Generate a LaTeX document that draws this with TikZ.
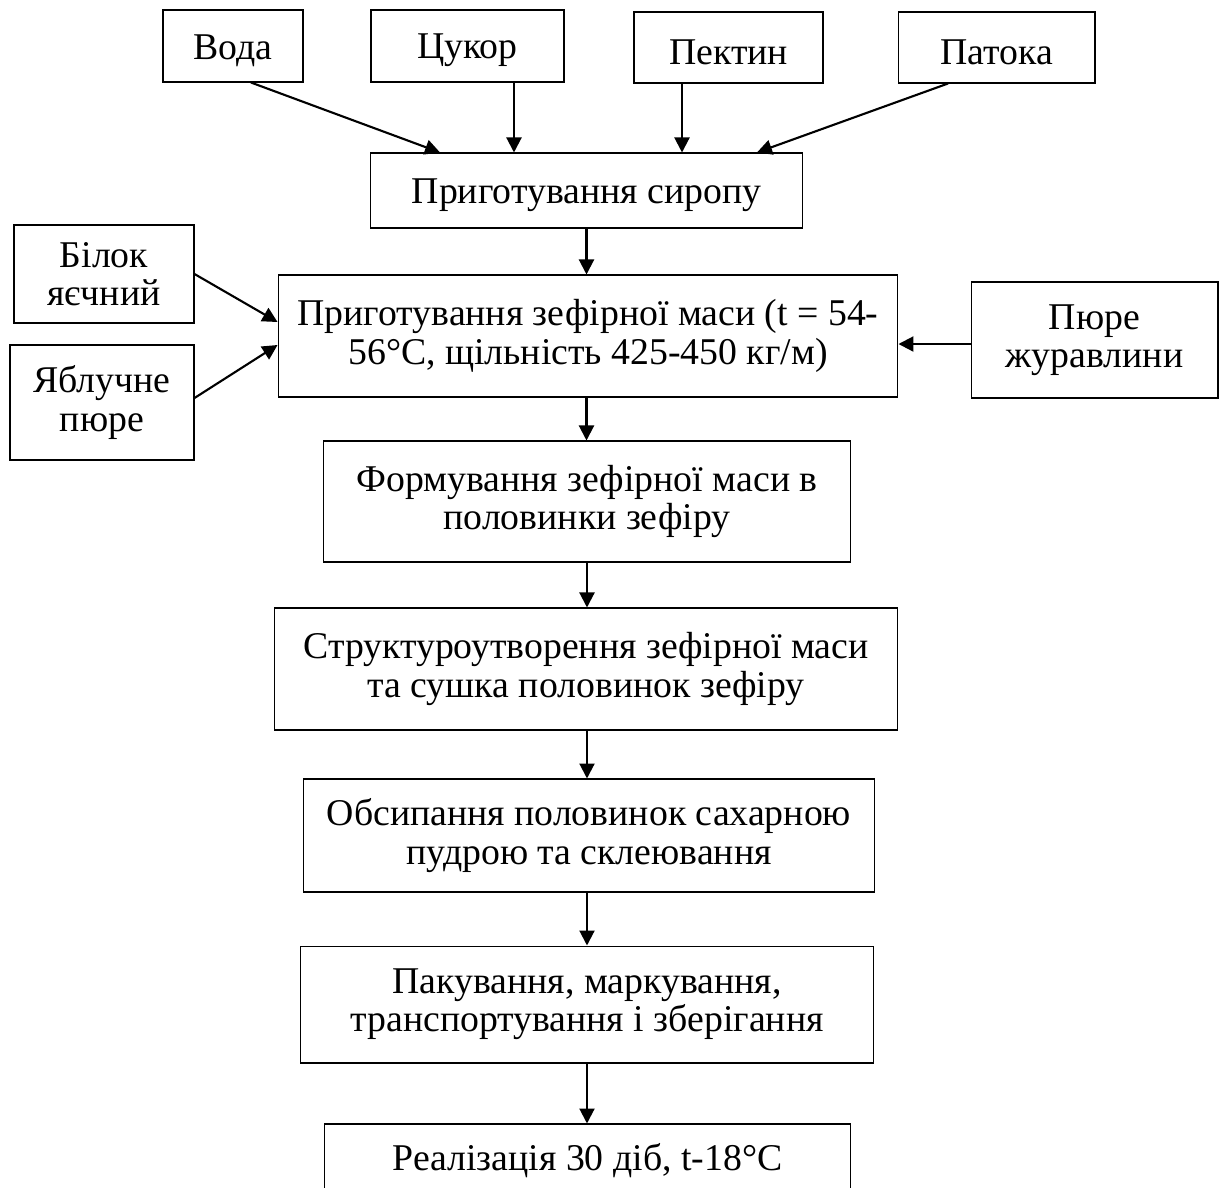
\documentclass[tikz,border=0pt]{standalone}
\usepackage{fontspec}
\setmainfont{Liberation Serif}
\usetikzlibrary{arrows.meta}

\begin{document}
\begin{tikzpicture}[x=0.02cm, y=-0.02cm,
    box/.style={draw, line width=0.6pt, align=center, inner sep=0pt, font=\fontsize{21.5}{21.8}\selectfont,
      execute at begin node={\rule{0pt}{19.4pt}}},
    arr/.style={line width=1.2pt, -{Triangle[length=0.3cm, width=0.3cm]}}]
  \clip (0,0) rectangle (1227,1187);
  % inputs for the syrup
  \node[box, minimum width=2.8cm, minimum height=1.44cm] (voda) at (233,46) {Вода};
  \node[box, minimum width=3.86cm, minimum height=1.44cm] (tsukor) at (467.5,46) {Цукор};
  \node[box, minimum width=3.78cm, minimum height=1.42cm] (pektyn) at (728.5,47.5) {Пектин};
  \node[box, minimum width=3.94cm, minimum height=1.42cm] (patoka) at (996.5,47.5) {Патока};
  \node[box, minimum width=8.66cm, minimum height=1.5cm] (syrop) at (586.5,190.5) {Приготування сиропу};
  % side inputs
  \node[box, minimum width=3.6cm, minimum height=1.96cm] (bilok) at (104,274) {Білок\\яєчний};
  \node[box, minimum width=3.68cm, minimum height=2.3cm] (yabl) at (102,402.5) {Яблучне\\пюре};
  \node[box, minimum width=4.94cm, minimum height=2.32cm] (pyure) at (1094.5,340) {Пюре\\журавлини};
  % main line
  \node[box, minimum width=12.4cm, minimum height=2.44cm] (masa) at (588,336) {Приготування зефірної маси (t = 54-\\56°C, щільність 425-450 кг/м)};
  \node[box, minimum width=10.56cm, minimum height=2.42cm] (form) at (587,501.5) {Формування зефірної маси в\\половинки зефіру};
  \node[box, minimum width=12.48cm, minimum height=2.44cm] (struct) at (586,669) {Структуроутворення зефірної маси\\та сушка половинок зефіру};
  \node[box, minimum width=11.44cm, minimum height=2.26cm] (obsyp) at (589,835.5) {Обсипання половинок сахарною\\пудрою та склеювання};
  \node[box, minimum width=11.48cm, minimum height=2.34cm] (pak) at (587,1004.5) {Пакування, маркування,\\транспортування і зберігання};
  \node[box, minimum width=10.54cm, minimum height=1.32cm] (real) at (587.5,1157) {Реалізація 30 діб, t-18°C};

  \draw[arr] ([xshift=0.36cm]voda.south) -- ([xshift=-2.93cm]syrop.north);
  \draw[arr] ([xshift=0.93cm]tsukor.south) -- ([xshift=0.93cm]tsukor.south |- syrop.north);
  \draw[arr] ([xshift=-0.93cm]pektyn.south) -- ([xshift=-0.93cm]pektyn.south |- syrop.north);
  \draw[arr] ([xshift=-0.97cm]patoka.south) -- ([xshift=3.41cm]syrop.north);
  \draw[arr] (syrop.south) -- (syrop.south |- masa.north);
  \draw[arr] (bilok.east) -- ([yshift=0.28cm]masa.west);
  \draw[arr] ([yshift=0.09cm]yabl.east) -- ([yshift=-0.18cm]masa.west);
  \draw[arr] ([yshift=-0.08cm]pyure.west) -- ([yshift=-0.08cm]pyure.west -| masa.east);
  \draw[arr] (masa.south -| syrop.south) -- (syrop.south |- form.north);
  \draw[arr] (form.south) -- (form.south |- struct.north);
  \draw[arr] (form.south |- struct.south) -- (form.south |- obsyp.north);
  \draw[arr] (form.south |- obsyp.south) -- (form.south |- pak.north);
  \draw[arr] (pak.south) -- (pak.south |- real.north);
\end{tikzpicture}
\end{document}
